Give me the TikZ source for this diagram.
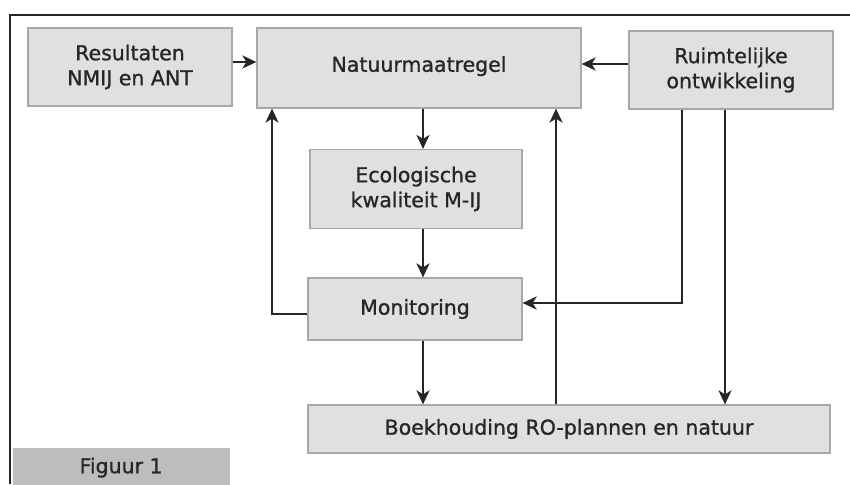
\documentclass[tikz,border=0pt]{standalone}
\usepackage{fontspec}
\setmainfont[FakeBold=1]{DejaVu Sans}
\usetikzlibrary{arrows.meta}
\definecolor{boxgray}{HTML}{E0E0E0}
\definecolor{boxline}{HTML}{A8A8A8}
\definecolor{figgray}{HTML}{BDBDBD}
\tikzset{
    blok/.style={draw=boxline,fill=boxgray,line width=1.2pt,align=center,
        inner sep=0pt,font=\fontsize{20.5}{25}\selectfont,text=black!85},
    pijl/.style={-{Stealth[length=14pt,width=13pt,inset=4pt]},line width=2.8pt,draw=black!85}
}
\begin{document}
\begin{tikzpicture}[x=1pt,y=-1pt]
    \useasboundingbox (0,0) rectangle (850,484);
    \draw[line width=1.8pt,black!85] (10,484) -- (10,15) -- (850,15);
    \node[blok,minimum width=204,minimum height=78] (res) at (130,67) {Resultaten\\NMIJ en ANT};
    \node[blok,minimum width=324,minimum height=80] (nat) at (419,68) {\raisebox{8pt}{Natuurmaatregel}};
    \node[blok,minimum width=204,minimum height=78] (ruim) at (731,70) {Ruimtelijke\\ontwikkeling};
    \node[blok,minimum width=212,minimum height=79] (eco) at (416,189) {Ecologische\\kwaliteit M-IJ};
    \node[blok,minimum width=214,minimum height=62] (mon) at (415,309) {Monitoring};
    \node[blok,minimum width=522,minimum height=48] (boek) at (569,429) {Boekhouding RO-plannen en natuur};
    \node[blok,draw=none,fill=figgray,minimum width=217,minimum height=40,anchor=north west] (fig) at (12,447) {Figuur 1};
    % pijlen
    \draw[pijl] (res.east |- 0,62) -- (nat.west |- 0,62);
    \draw[pijl] (ruim.west |- 0,64) -- (nat.east |- 0,64);
    \draw[pijl] (nat.south -| 423,0) -- (eco.north -| 423,0);
    \draw[pijl] (eco.south -| 423,0) -- (mon.north -| 423,0);
    \draw[pijl] (mon.south -| 423,0) -- (boek.north -| 423,0);
    \draw[pijl] (mon.west |- 0,314) -| (nat.south -| 272,0);
    \draw[pijl] (boek.north -| 556,0) -- (nat.south -| 556,0);
    \draw[pijl] (ruim.south -| 682,0) |- (mon.east |- 0,303);
    \draw[pijl] (ruim.south -| 725,0) -- (boek.north -| 725,0);
\end{tikzpicture}
\end{document}
